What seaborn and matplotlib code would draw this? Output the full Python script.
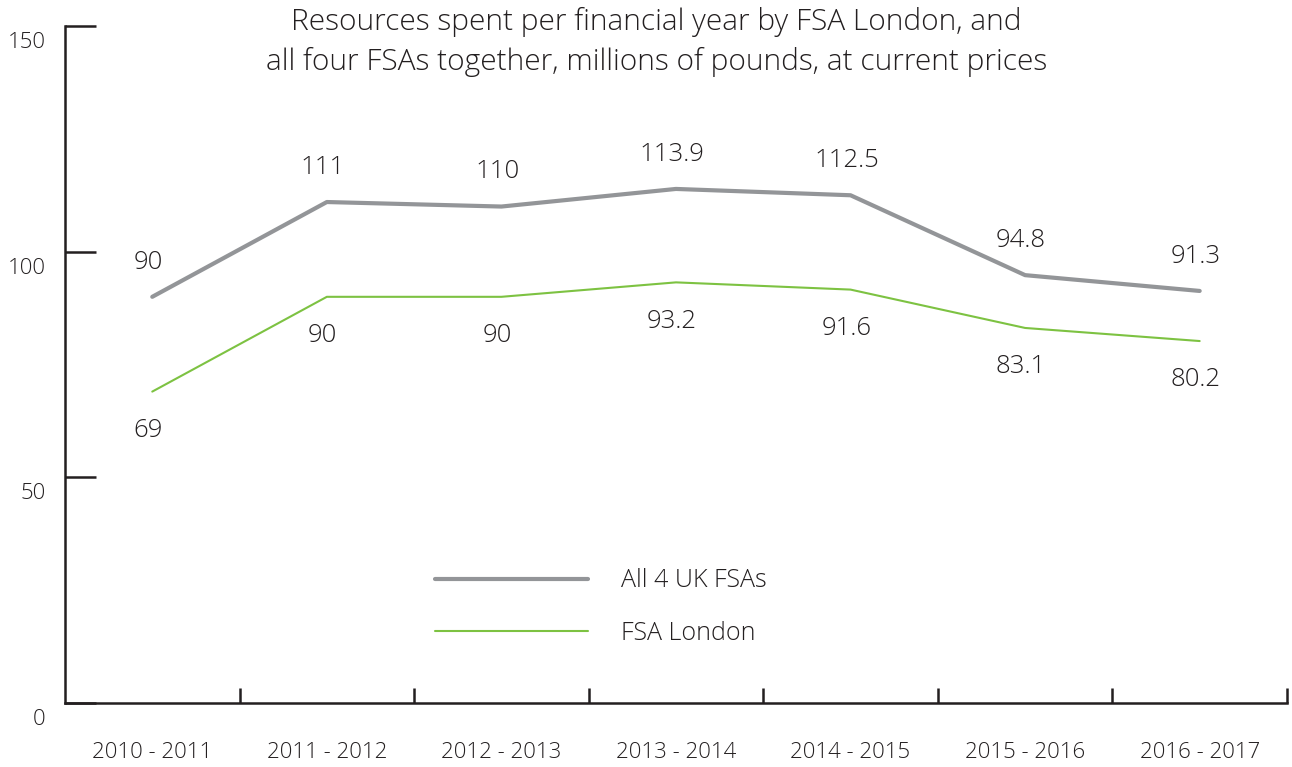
import numpy as np
import pandas as pd
import matplotlib
matplotlib.use("Agg")
import matplotlib.pyplot as plt
import matplotlib.transforms as mtransforms
import seaborn as sns

# values
years = ['2010 - 2011', '2011 - 2012', '2012 - 2013', '2013 - 2014',
         '2014 - 2015', '2015 - 2016', '2016 - 2017']
all_fsas = [90, 111, 110, 113.9, 112.5, 94.8, 91.3]
fsa_london = [69, 90, 90, 93.2, 91.6, 83.1, 80.2]
series_names = ['All 4 UK FSAs', 'FSA London']
y_ticks = [0, 50, 100, 150]

df = pd.DataFrame({
    'Year': years * 2,
    'Value': all_fsas + fsa_london,
    'Series': [series_names[0]] * len(years) + [series_names[1]] * len(years),
})

sns.set_style('white')
plt.rcParams['font.family'] = ['Open Sans', 'DejaVu Sans']
plt.rcParams['font.weight'] = 'light'
text_col = '#231f20'

fig = plt.figure(figsize=(12.92, 7.67), dpi=100)
ax = fig.add_axes([0.0503, 0.0834, 0.9458, 0.8827])

palette = {series_names[0]: '#939598', series_names[1]: '#7dc242'}
sizes = {series_names[0]: 3.0, series_names[1]: 1.5}
sns.lineplot(data=df, x='Year', y='Value', hue='Series', size='Series',
             palette=palette, sizes=sizes, ax=ax, sort=False)

# data labels: grey above, green below
x_pos = np.arange(len(years))
for xi, v in zip(x_pos, all_fsas):
    ax.annotate(f'{v:g}', (xi, v), xytext=(-3, 25), textcoords='offset points',
                ha='center', va='center', fontsize=18.5, color=text_col)
for xi, v in zip(x_pos, fsa_london):
    ax.annotate(f'{v:g}', (xi, v), xytext=(-3, -28), textcoords='offset points',
                ha='center', va='center', fontsize=18.5, color=text_col)

ax.set_xlim(-0.5, len(years) - 0.5)
ax.set_ylim(0, 150)

# category boundary tick marks, labels on minor ticks
ax.set_xticks(np.arange(len(years)) + 0.5)
ax.set_xticklabels([])
ax.set_xticks(x_pos, minor=True)
ax.set_xticklabels(years, minor=True, fontsize=16, color=text_col)
ax.tick_params(axis='x', which='major', direction='in', length=11, width=1.8,
               color=text_col, bottom=True)
ax.tick_params(axis='x', which='minor', length=0, pad=28, bottom=True)

ax.set_yticks(y_ticks)
ax.set_yticklabels([str(t) for t in y_ticks], fontsize=16, color=text_col)
ax.tick_params(axis='y', direction='in', length=22, width=1.8, color=text_col,
               pad=14, left=True)
shift = mtransforms.ScaledTranslation(0, -14 / 100, fig.dpi_scale_trans)
for lbl in ax.get_yticklabels():
    lbl.set_transform(lbl.get_transform() + shift)

for side in ['top', 'right']:
    ax.spines[side].set_visible(False)
for side in ['left', 'bottom']:
    ax.spines[side].set_color(text_col)
    ax.spines[side].set_linewidth(1.8)

ax.set_xlabel('')
ax.set_ylabel('')

fig.text(0.508, 0.945, 'Resources spent per financial year by FSA London, and\n'
         'all four FSAs together, millions of pounds, at current prices',
         ha='center', va='center', fontsize=21.5, color=text_col, linespacing=1.43)

handles, labels = ax.get_legend_handles_labels()
ax.legend(handles, labels, loc='center left', bbox_to_anchor=(0.3273, 0.2086),
          bbox_transform=fig.transFigure, frameon=False, fontsize=18,
          handlelength=6.1, handletextpad=1.32, labelspacing=1.1,
          borderpad=0, labelcolor=text_col)

fig.savefig('out.png', dpi=100)
